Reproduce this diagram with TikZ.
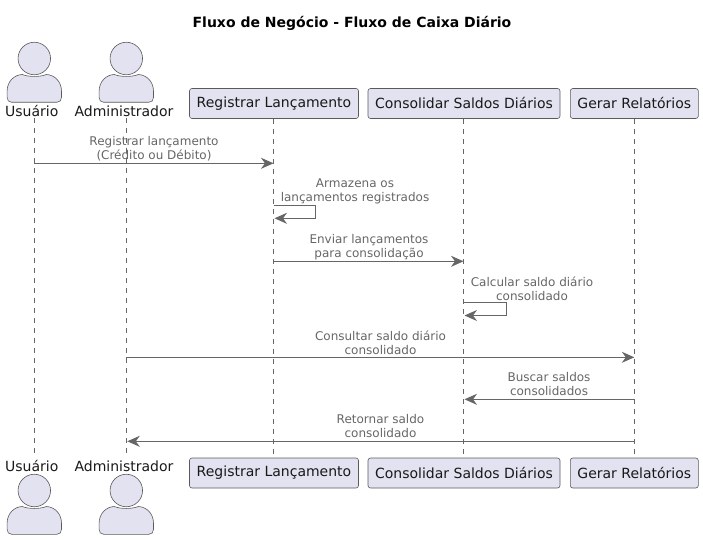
\documentclass[tikz,border=0pt]{standalone}
\usepackage{fontspec}
\setmainfont{DejaVu Sans}
\usetikzlibrary{arrows.meta}
\definecolor{pfill}{HTML}{E2E2F0}
\definecolor{pline}{HTML}{5A5A5A}
\definecolor{msg}{HTML}{666666}
\tikzset{
  x=1pt,y=-1pt,
  partbox/.style={draw=pline,fill=pfill,rounded corners=2.5pt,line width=.6pt,inner sep=0pt,minimum height=30pt,font=\fontsize{14}{16}\selectfont,text=black!90},
  actorhead/.style={circle,draw=pline,fill=pfill,line width=.6pt,minimum size=32.5pt,inner sep=0pt},
  actorlabel/.style={inner sep=0pt,font=\fontsize{14}{16}\selectfont,text=black!90},
  lifeline/.style={draw=msg,line width=.5pt,dash pattern=on 5pt off 5pt},
  message/.style={draw=msg,line width=1pt,-{Stealth[length=12.5pt,width=11pt,inset=4pt,fill=msg]}},
  msglabel/.style={inner sep=0pt,align=center,text=msg,font=\fontsize{12}{14}\selectfont},
  titlelabel/.style={inner sep=0pt,font=\bfseries\fontsize{14}{16}\selectfont}
}
\newcommand{\actorbody}[2]{%
  \draw[draw=pline,fill=pfill,line width=.6pt,shift={(#1,#2)}]
    (-22.5,28) .. controls (-25.5,28) and (-27.2,26) .. (-27.2,23)
    -- (-27.2,17) .. controls (-27.2,7) and (-20,0.5) .. (-12,0.2)
    .. controls (-6,2.8) and (6,2.8) .. (12,0.2)
    .. controls (20,0.5) and (27.2,7) .. (27.2,17)
    -- (27.2,23) .. controls (27.2,26) and (25.5,28) .. (22.5,28) -- cycle;}
\begin{document}
\begin{tikzpicture}
\useasboundingbox (0,0) rectangle (703,540);
\node[titlelabel] (title) at (352,23.5) {Fluxo de Negócio - Fluxo de Caixa Diário};
% lifeline ends
\coordinate (ua) at (34.3,118); \coordinate (ub) at (34.3,456);
\coordinate (aa) at (126.3,118); \coordinate (ab) at (126.3,456);
% participants
\node[partbox,minimum width=169pt] (rt) at (274,103.5) {\raisebox{.7pt}{Registrar Lançamento}};
\node[partbox,minimum width=192pt] (ct) at (464,103.5) {\raisebox{.7pt}{Consolidar Saldos Diários}};
\node[partbox,minimum width=128pt] (gt) at (634.3,103.5) {\raisebox{.7pt}{Gerar Relatórios}};
\node[partbox,minimum width=169pt] (rb) at (274,473) {\raisebox{.7pt}{Registrar Lançamento}};
\node[partbox,minimum width=192pt] (cb) at (464,473) {\raisebox{.7pt}{Consolidar Saldos Diários}};
\node[partbox,minimum width=128pt] (gb) at (634.3,473) {\raisebox{.7pt}{Gerar Relatórios}};
% lifelines
\draw[lifeline] (ua) -- (ub);
\draw[lifeline] (aa) -- (ab);
\draw[lifeline] ([xshift=-.5pt]rt.south) -- ([xshift=-.5pt]rb.north);
\draw[lifeline] ([xshift=-.5pt]ct.south) -- ([xshift=-.5pt]cb.north);
\draw[lifeline] (gt.south) -- (gb.north);
% actors
\actorbody{34.3}{74.3}
\actorbody{126.3}{74.3}
\actorbody{34.3}{506.3}
\actorbody{126.3}{506.3}
\node[actorhead] (uh1) at (34.3,58.5) {};
\node[actorhead] (ah1) at (126.3,58.5) {};
\node[actorhead] (uh2) at (34.3,490.5) {};
\node[actorhead] (ah2) at (126.3,490.5) {};
\node[actorlabel] (ul1) at (31.8,111) {Usuário};
\node[actorlabel] (al1) at (124,111) {Administrador};
\node[actorlabel] (ul2) at (31.8,466) {Usuário};
\node[actorlabel] (al2) at (124,466) {Administrador};
% message ends
\coordinate (m1a) at (34.3,163.3); \coordinate (m1b) at (273.5,163.3);
\coordinate (m2a) at (273.5,205.3); \coordinate (m2b) at (315.3,205.3);
\coordinate (m2c) at (315.3,218.3); \coordinate (m2d) at (274.5,218.3);
\coordinate (m3a) at (273.5,261.3); \coordinate (m3b) at (463.5,261.3);
\coordinate (m4a) at (463.5,302.5); \coordinate (m4b) at (506.5,302.5);
\coordinate (m4c) at (506.5,315.5); \coordinate (m4d) at (464.5,315.5);
\coordinate (m5a) at (126.3,357.3); \coordinate (m5b) at (634.3,357.3);
\coordinate (m6a) at (634.3,399.3); \coordinate (m6b) at (464.5,399.3);
\coordinate (m7a) at (634.3,441.3); \coordinate (m7b) at (127.3,441.3);
% messages
\draw[message] (m1a) -- (m1b);
\draw[message] (m2a) -- (m2b) -- (m2c) -- (m2d);
\draw[message] (m3a) -- (m3b);
\draw[message] (m4a) -- (m4b) -- (m4c) -- (m4d);
\draw[message] (m5a) -- (m5b);
\draw[message] (m6a) -- (m6b);
\draw[message] (m7a) -- (m7b);
% message labels
\node[msglabel] (l1) at (154,149) {Registrar lançamento\\(Crédito ou Débito)};
\node[msglabel] (l2) at (355,191) {Armazena os\\lançamentos registrados};
\node[msglabel] (l3) at (369,247) {Enviar lançamentos\\para consolidação};
\node[msglabel] (l4) at (532,288.5) {Calcular saldo diário\\consolidado};
\node[msglabel] (l5) at (380.5,342.5) {Consultar saldo diário\\consolidado};
\node[msglabel] (l6) at (549,384.5) {Buscar saldos\\consolidados};
\node[msglabel] (l7) at (380.5,426.5) {Retornar saldo\\consolidado};
\end{tikzpicture}
\end{document}
